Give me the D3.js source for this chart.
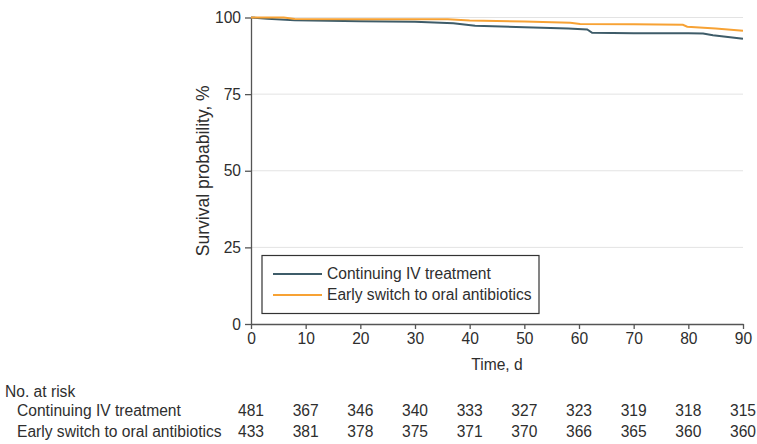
<!DOCTYPE html>
<html>
<head>
<meta charset="utf-8">
<script src="https://cdn.jsdelivr.net/npm/d3@7"></script>
<style>
  body { margin: 0; background: #fff; }
  svg { display: block; font-family: "Liberation Sans Narrow", "Liberation Sans", sans-serif; }
</style>
</head>
<body>
<svg id="area" width="757" height="444"></svg>
<script>
// survival curves (time in days, survival %)
const ivTime = [0, 3, 8, 20, 30, 37, 41, 50, 58, 61.5, 62.4, 70, 80, 82.7, 84.5, 90];
const ivSurv = [100, 99.6, 99.1, 98.8, 98.6, 98.1, 97.3, 96.8, 96.4, 96.1, 95.0, 94.9, 94.85, 94.8, 94.2, 93.1];
const oralTime = [0, 6, 8, 20, 36, 40, 50, 58.4, 60.2, 70, 79, 79.8, 85, 90];
const oralSurv = [100, 100, 99.5, 99.4, 99.4, 99.0, 98.7, 98.3, 97.9, 97.8, 97.6, 97.0, 96.4, 95.7];

const seriesNames = ['Continuing IV treatment', 'Early switch to oral antibiotics'];
const seriesColors = ['#3e5c69', '#f7a234'];

const xTicks = [0, 10, 20, 30, 40, 50, 60, 70, 80, 90];
const yTicks = [0, 25, 50, 75, 100];
const riskIV = [481, 367, 346, 340, 333, 327, 323, 319, 318, 315];
const riskOral = [433, 381, 378, 375, 371, 370, 366, 365, 360, 360];

const svg = d3.select('#area');
const textColor = '#2e2e2e';
const axisColor = '#555';
const fontSize = '15.6px';

const x = d3.scaleLinear().domain([0, 90]).range([251, 743]);
const y = d3.scaleLinear().domain([0, 100]).range([324, 17.5]);

// gridlines
svg.append('g')
  .selectAll('line')
  .data(yTicks.filter((d) => d > 0))
  .join('line')
  .attr('x1', x(0))
  .attr('x2', x(90))
  .attr('y1', (d) => y(d))
  .attr('y2', (d) => y(d))
  .attr('stroke', '#e3e3e3')
  .attr('stroke-width', 1);

// axes
const xAxis = svg.append('g')
  .attr('transform', `translate(0,${y(0)})`)
  .call(d3.axisBottom(x).tickValues(xTicks).tickSize(5).tickSizeOuter(0).tickPadding(4));
const yAxis = svg.append('g')
  .attr('transform', `translate(${x(0)},0)`)
  .call(d3.axisLeft(y).tickValues(yTicks).tickSize(6).tickSizeOuter(0).tickPadding(4));

[xAxis, yAxis].forEach((g) => {
  g.select('.domain').attr('stroke', axisColor).attr('stroke-width', 1.3);
  g.selectAll('.tick line').attr('stroke', axisColor).attr('stroke-width', 1.3);
  g.selectAll('.tick text')
    .attr('fill', textColor)
    .style('font-size', fontSize)
    .style('font-family', '"Liberation Sans Narrow", "Liberation Sans", sans-serif');
});

svg.append('text')
  .attr('x', x(45))
  .attr('y', 370)
  .attr('text-anchor', 'middle')
  .attr('fill', textColor)
  .style('font-size', fontSize)
  .text('Time, d');

svg.append('text')
  .attr('transform', `translate(209,${y(50)}) rotate(-90)`)
  .attr('text-anchor', 'middle')
  .attr('fill', textColor)
  .style('font-size', '17.5px')
  .text('Survival probability, %');

// curves
const line = d3.line()
  .x((d) => x(d[0]))
  .y((d) => y(d[1]));

const curves = [
  d3.zip(ivTime, ivSurv),
  d3.zip(oralTime, oralSurv),
];

svg.append('g')
  .selectAll('path')
  .data(curves)
  .join('path')
  .attr('fill', 'none')
  .attr('stroke', (d, i) => seriesColors[i])
  .attr('stroke-width', 2)
  .attr('d', line);

// legend
const legend = svg.append('g');
legend.append('rect')
  .attr('x', 262)
  .attr('y', 255.5)
  .attr('width', 277)
  .attr('height', 58)
  .attr('fill', '#fff')
  .attr('stroke', '#333')
  .attr('stroke-width', 1.2);

const item = legend.selectAll('g')
  .data(seriesNames)
  .join('g')
  .attr('transform', (d, i) => `translate(0,${274 + i * 21})`);
item.append('line')
  .attr('x1', 273)
  .attr('x2', 322)
  .attr('stroke', (d, i) => seriesColors[i])
  .attr('stroke-width', 2);
item.append('text')
  .attr('x', 327)
  .attr('dy', '0.35em')
  .attr('fill', textColor)
  .style('font-size', fontSize)
  .text((d) => d);

// number at risk table
svg.append('text')
  .attr('x', 5)
  .attr('y', 397)
  .attr('fill', textColor)
  .style('font-size', fontSize)
  .text('No. at risk');

const riskRows = [riskIV, riskOral];
const rows = svg.append('g')
  .selectAll('g')
  .data(riskRows)
  .join('g')
  .attr('transform', (d, i) => `translate(0,${416 + i * 21})`);
rows.append('text')
  .attr('x', 17)
  .attr('fill', textColor)
  .style('font-size', fontSize)
  .text((d, i) => seriesNames[i]);
rows.selectAll('text.n')
  .data((d) => d)
  .join('text')
  .attr('class', 'n')
  .attr('x', (d, i) => x(xTicks[i]))
  .attr('text-anchor', 'middle')
  .attr('fill', textColor)
  .style('font-size', fontSize)
  .text((d) => d);
</script>
</body>
</html>
